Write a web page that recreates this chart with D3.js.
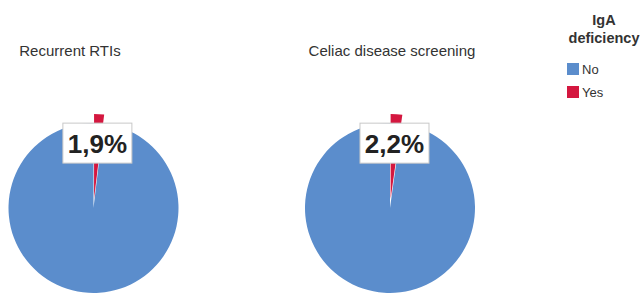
<!DOCTYPE html>
<html><head><meta charset="utf-8">
<script src="https://cdn.jsdelivr.net/npm/d3@7"></script>
<style>html,body{margin:0;padding:0;background:#fff;}svg{display:block;}</style>
</head><body>
<svg id="chart" width="644" height="295"></svg>
<script>
const panels = ["Recurrent RTIs", "Celiac disease screening"];
const categories = ["Yes", "No"];
const yesPercent = [1.9, 2.2];
const noPercent = [98.1, 97.8];
const labels = ["1,9%", "2,2%"];
const legendTitle = ["IgA", "deficiency"];
const legendItems = ["No", "Yes"];

const W = 644, H = 295;
const svg = d3.select("#chart");
const color = d3.scaleOrdinal().domain(["No", "Yes"]).range(["#5b8dcc", "#d4173f"]);
const xPanel = d3.scaleOrdinal().domain(panels).range([93.5, 390]);
const titleX = d3.scaleOrdinal().domain(panels).range([70, 392]);
const cy = 208, R = 85, explode = 9, labelDist = 65;

const pie = d3.pie().sort(null).value(d => d.v);
const arc = d3.arc().innerRadius(0).outerRadius(R);

panels.forEach((p, i) => {
  const cx = xPanel(p);
  svg.append("text").attr("x", titleX(p)).attr("y", 56)
    .attr("text-anchor", "middle").attr("font-family", "Liberation Sans, Arial, sans-serif")
    .attr("font-size", 15).attr("fill", "#333").text(p);
  const data = [{k: "Yes", v: yesPercent[i]}, {k: "No", v: noPercent[i]}];
  const arcs = pie(data);
  const g = svg.append("g").attr("transform", `translate(${cx},${cy})`);
  arcs.slice().reverse().forEach(a => {
    const mid = (a.startAngle + a.endAngle) / 2;
    const off = a.data.k === "Yes" ? explode : 0;
    g.append("path").attr("d", arc(a))
      .attr("transform", `translate(${Math.sin(mid) * off},${-Math.cos(mid) * off})`)
      .attr("fill", color(a.data.k));
  });
  const ya = arcs[0];
  const mid = (ya.startAngle + ya.endAngle) / 2;
  const lx = Math.sin(mid) * labelDist, ly = -Math.cos(mid) * labelDist;
  const lg = g.append("g").attr("transform", `translate(${lx},${ly})`);
  lg.append("rect").attr("x", -34.5).attr("y", -20).attr("width", 69).attr("height", 40)
    .attr("fill", "#fff").attr("stroke", "#c8c8c8").attr("stroke-width", 1);
  lg.append("text").attr("x", 0).attr("y", 9.5).attr("text-anchor", "middle")
    .attr("font-family", "Liberation Sans, Arial, sans-serif").attr("font-weight", "bold")
    .attr("font-size", 26).attr("fill", "#222").text(labels[i]);
});

// legend
const lgx = 604;
legendTitle.forEach((t, j) => {
  svg.append("text").attr("x", lgx).attr("y", 25 + j * 18).attr("text-anchor", "middle")
    .attr("font-family", "Liberation Sans, Arial, sans-serif").attr("font-weight", "bold")
    .attr("font-size", 14.5).attr("fill", "#333").text(t);
});
legendItems.forEach((t, j) => {
  const y = 63 + j * 23;
  svg.append("rect").attr("x", 567).attr("y", y).attr("width", 12).attr("height", 12).attr("fill", color(t));
  svg.append("text").attr("x", 582).attr("y", y + 11).attr("font-family", "Liberation Sans, Arial, sans-serif")
    .attr("font-size", 13).attr("fill", "#333").text(t);
});
</script>
</body></html>
